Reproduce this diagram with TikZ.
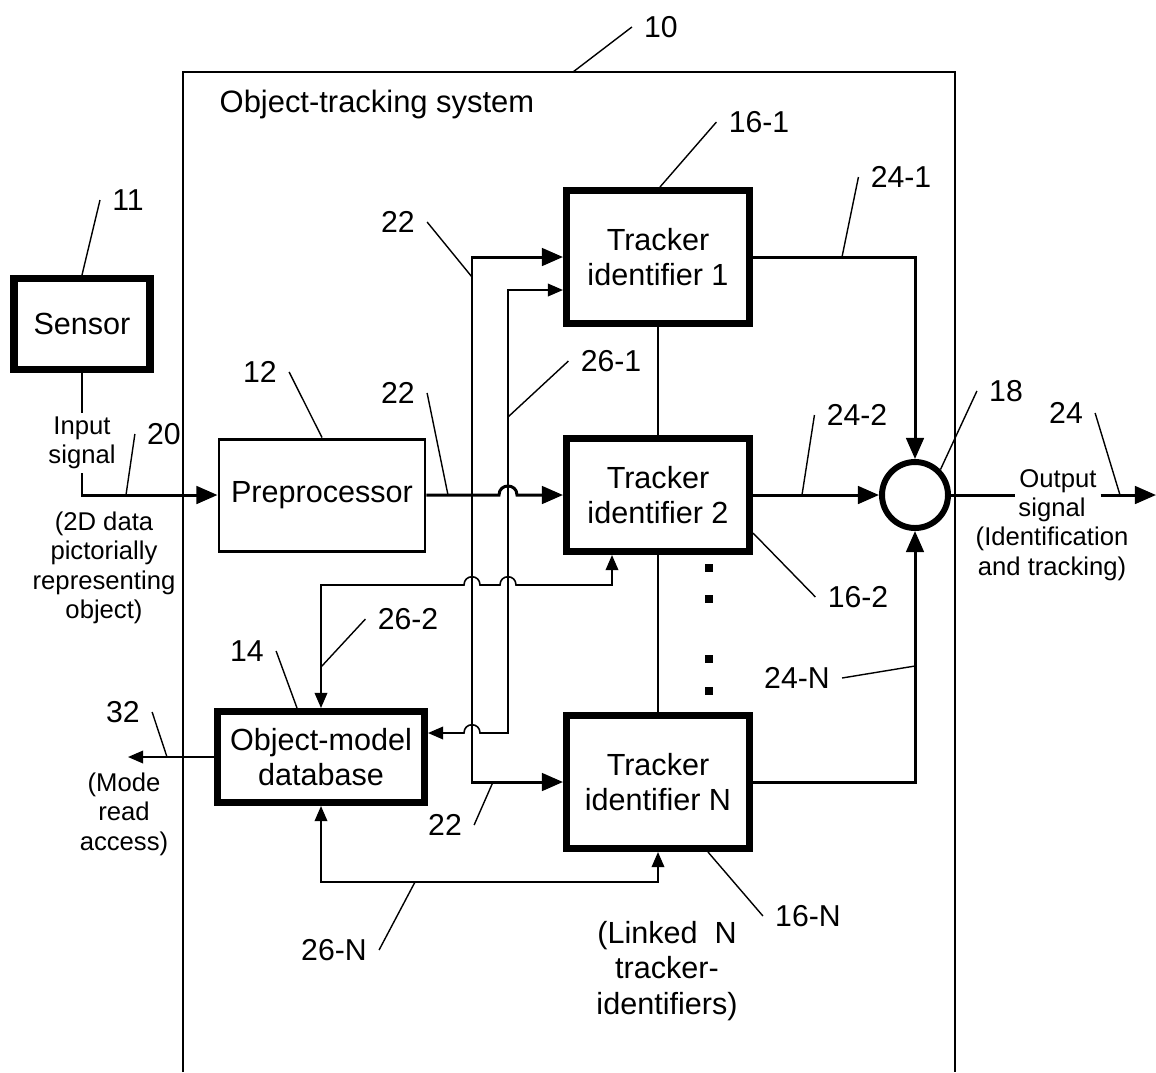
\documentclass[tikz,border=0pt]{standalone}
\usepackage{fontspec}
\setmainfont{Liberation Sans}
\usepackage{tikz}
\usetikzlibrary{arrows.meta,calc}
\newcommand{\txtbox}{\fontsize{8.7}{10}\selectfont}
\newcommand{\txtlab}{\fontsize{8.6}{9.5}\selectfont}
\newcommand{\txtsml}{\fontsize{7.3}{8.4}\selectfont}
\tikzset{
  blk/.style={rectangle,draw=black,line width=2pt,fill=white,align=center,font=\txtbox,inner sep=0pt},
  pbx/.style={rectangle,draw=black,line width=.85pt,fill=white,align=center,font=\txtbox,inner sep=0pt},
  smn/.style={circle,draw=black,line width=1.7pt,fill=white,minimum size=6.6mm,inner sep=0pt},
  sig/.style={draw=black,line width=.85pt},
  thn/.style={draw=black,line width=.45pt},
  ldr/.style={draw=black,line width=.4pt},
  sys/.style={draw=black,line width=.45pt},
  tk/.style={-{Triangle[length=6pt,width=5pt]}},
  tks/.style={-{Triangle[length=4.3pt,width=3.6pt]}},
  tkb/.style={{Triangle[length=4.3pt,width=3.6pt]}-{Triangle[length=4.3pt,width=3.6pt]}},
  lb/.style={font=\txtlab,inner sep=1pt,outer sep=2.5pt},
  cp/.style={font=\txtsml,align=center,inner sep=1pt},
  dt/.style={rectangle,fill=black,minimum size=2.3pt,inner sep=0pt},
}
\begin{document}
\begin{tikzpicture}[x=0.1mm,y=-0.1mm]
\useasboundingbox (0,0) rectangle (1156,1072);
% system frame, open at the bottom
\draw[sys] (183,1072) -- (183,72) -- (955,72) -- (955,1072);
\node[anchor=west,font=\fontsize{8.8}{10}\selectfont,inner sep=0pt] (ttl) at (219,104) {Object-tracking system};

% blocks
\node[blk,minimum width=13.6mm,minimum height=9.1mm] (sen) at (82,324) {Sensor};
\node[pbx,minimum width=20.6mm,minimum height=11.2mm] (pre) at (322,495) {Preprocessor};
\node[blk,minimum width=18.3mm,minimum height=13.3mm] (tr1) at (658,257) {Tracker\\identifier 1};
\node[blk,minimum width=18.3mm,minimum height=11.3mm] (tr2) at (658,495) {Tracker\\identifier 2};
\node[blk,minimum width=18.3mm,minimum height=13.3mm] (trN) at (658,782) {Tracker\\identifier N};
\node[blk,minimum width=20.7mm,minimum height=9.1mm] (db) at (321,757) {Object-model\\database};
\node[smn] (sum) at (915,495) {};

% captions
\node[cp] (insig) at (82,443) {Input\\signal};
\node[cp] (in2d) at (104,568) {(2D data\\pictorially\\representing\\object)};
\node[cp] (outw) at (1058,481) {Output};
\node[cp] (outd) at (1052,539) {signal\\(Identification\\and tracking)};
\node[cp] (mode) at (124,814) {(Mode\\read\\access)};
\node[font=\txtbox,align=center,inner sep=1pt] (lnk) at (667,971) {(Linked\ \ N\\tracker-\\identifiers)};

\coordinate (bus) at (472,495);
\coordinate (ln2) at (321,585);
\coordinate (lnN) at (321,882);
\coordinate (rd) at (128,757);
\coordinate (outend) at (1156,495);
\coordinate (t2b) at ($(tr2.south)+(-46,0)$);

% signal path
\draw[sig] (sen.south) -- (insig.north);
\draw[sig,tk] (insig.south) |- (pre.west);
\draw[sig,tk] (pre.east) -- (499,495) .. controls (499,483) and (517,483) .. (517,495) -- (tr2.west);
\draw[sig,tk] (bus) |- (tr1.west);
\draw[sig,tk] (bus) |- (trN.west);
\draw[sig,tk] (tr1.east) -| (sum.north);
\draw[sig,tk] (tr2.east) -- (sum.west);
\draw[sig,tk] (trN.east) -| (sum.south);
\draw[sig] (sum.east) -- (outw.west |- sum.east);
\draw[sig,tk] (outw.east |- sum.east) -- (outend);

% database links
\draw[thn,tkb] ($(db.east)+(0,-24)$) -- (464,733) .. controls (464,722) and (480,722) .. (480,733)
  -- (508,733) -- (508,290) -- ($(tr1.west)+(0,33)$);
\draw[thn,tkb] (db.north) -- (ln2) -- (464,585) .. controls (464,574) and (480,574) .. (480,585)
  -- (500,585) .. controls (500,574) and (516,574) .. (516,585) -- (t2b |- ln2) -- (t2b);
\draw[thn,tkb] (db.south) -- (lnN) -| (trN.south);
\draw[thn,tks] (db.west) -- (rd);

% tracker stack
\draw[ldr] (tr1.south) -- (tr2.north) (tr2.south) -- (trN.north);
\foreach \y in {568,599,659,691} \node[dt] (dot\y) at (709,\y) {};

% reference numerals
\node[lb] (l10) at (661,27) {10};
\node[lb] (l11) at (128,200) {11};
\node[lb] (l12) at (260,372) {12};
\node[lb] (l14) at (247,651) {14};
\node[lb] (l161) at (759,122) {16-1};
\node[lb] (l162) at (858,597) {16-2};
\node[lb] (l16N) at (808,916) {16-N};
\node[lb] (l18) at (1006,391) {18};
\node[lb] (l20) at (164,434) {20};
\node[lb] (l22a) at (398,222) {22};
\node[lb] (l22b) at (398,393) {22};
\node[lb] (l22c) at (445,825) {22};
\node[lb] (l241) at (901,177) {24-1};
\node[lb] (l242) at (857,415) {24-2};
\node[lb] (l24N) at (797,678) {24-N};
\node[lb] (l24) at (1066,413) {24};
\node[lb] (l261) at (611,361) {26-1};
\node[lb] (l262) at (408,619) {26-2};
\node[lb] (l26N) at (334,950) {26-N};
\node[lb] (l32) at (123,712) {32};

\draw[ldr] (573,72) -- (l10.west);
\draw[ldr] (sen.north) -- (l11.west);
\draw[ldr] (pre.north) -- (l12.east);
\draw[ldr] ($(db.north)+(-24,0)$) -- (l14.east);
\draw[ldr] ($(tr1.north)+(2,0)$) -- (l161.west);
\draw[ldr] ($(tr2.east)+(0,38)$) -- (l162.west);
\draw[ldr] ($(trN.south)+(50,0)$) -- (l16N.west);
\draw[ldr] (sum.north east) -- (l18.west);
\draw[ldr] (126,495) -- (l20.west);
\draw[ldr] (472,277) -- (l22a.east);
\draw[ldr] (448,495) -- (l22b.east);
\draw[ldr] (493,782) -- (l22c.east);
\draw[ldr] (842,257) -- (l241.west);
\draw[ldr] (802,495) -- (l242.west);
\draw[ldr] (915,666) -- (l24N.east);
\draw[ldr] (1120,495) -- (l24.east);
\draw[ldr] (508,417) -- (l261.west);
\draw[ldr] (321,667) -- (l262.west);
\draw[ldr] (415,882) -- (l26N.east);
\draw[ldr] (167,757) -- (l32.east);
\end{tikzpicture}
\end{document}
